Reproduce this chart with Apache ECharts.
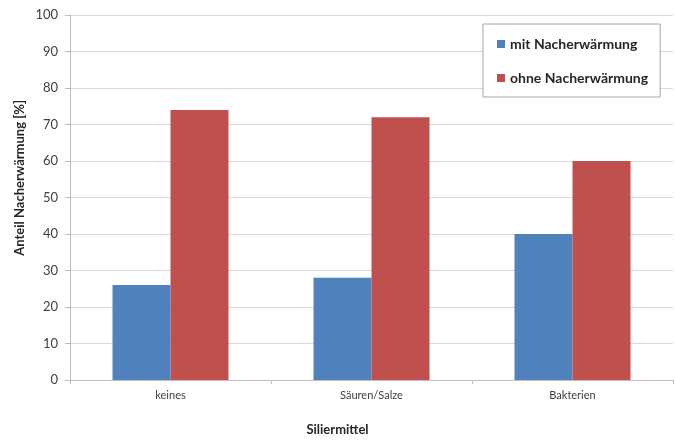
<!DOCTYPE html>
<html>
<head>
<meta charset="utf-8">
<script src="https://cdn.jsdelivr.net/npm/echarts@6/dist/echarts.min.js"></script>
<style>html,body{margin:0;padding:0;background:#fff;}#c{width:675px;height:440px;}</style>
</head>
<body>
<div id="c"></div>
<script>
const categories = ['keines', 'Säuren/Salze', 'Bakterien'];
const mitNacherwaermung = [26, 28, 40];
const ohneNacherwaermung = [74, 72, 60];
const seriesNames = ['mit Nacherwärmung', 'ohne Nacherwärmung'];
const yTicks = [0, 10, 20, 30, 40, 50, 60, 70, 80, 90, 100];

const FONT = 'Lato, "Open Sans", sans-serif';
const chart = echarts.init(document.getElementById('c'), null, {renderer: 'canvas'});
chart.setOption({
  animation: false,
  backgroundColor: '#ffffff',
  textStyle: {fontFamily: FONT},
  grid: {left: 70, right: 2, top: 15, bottom: 60, containLabel: false},
  legend: {
    orient: 'vertical',
    left: 483, top: 24,
    padding: [12, 12, 11, 14],
    itemGap: 18,
    itemWidth: 8, itemHeight: 8,
    icon: 'rect',
    backgroundColor: '#ffffff',
    borderColor: '#a6a6a6', borderWidth: 1,
    textStyle: {fontFamily: FONT, fontSize: 14, fontWeight: 'bold', color: '#262626', lineHeight: 16},
    data: seriesNames
  },
  xAxis: {
    type: 'category',
    data: categories,
    axisLine: {lineStyle: {color: '#bfbfbf'}},
    axisTick: {show: true, length: 4, lineStyle: {color: '#bfbfbf'}},
    axisLabel: {fontFamily: FONT, fontSize: 11, color: '#404040', margin: 10},
    splitLine: {show: false}
  },
  yAxis: {
    type: 'value',
    min: yTicks[0], max: yTicks[yTicks.length - 1], interval: 10,
    axisLine: {show: true, lineStyle: {color: '#bfbfbf'}},
    axisTick: {show: true, length: 5, lineStyle: {color: '#bfbfbf'}},
    axisLabel: {fontFamily: FONT, fontSize: 13, color: '#404040', margin: 12},
    splitLine: {lineStyle: {color: '#d9d9d9', width: 1}}
  },
  graphic: [
    {type: 'text', left: 13, top: 100, rotation: Math.PI / 2,
     style: {text: 'Anteil Nacherwärmung [%]', font: 'bold 13px ' + FONT, fill: '#262626'}},
    {type: 'text', left: 'center', top: 423,
     style: {text: 'Siliermittel', font: 'bold 13px ' + FONT, fill: '#262626'}}
  ],
  series: [
    {name: seriesNames[0], type: 'bar', data: mitNacherwaermung, barWidth: 58, barGap: '0%',
     itemStyle: {color: '#4f81bd'}},
    {name: seriesNames[1], type: 'bar', data: ohneNacherwaermung, barWidth: 58, barGap: '0%',
     itemStyle: {color: '#c0504d'}}
  ]
});
</script>
</body>
</html>
